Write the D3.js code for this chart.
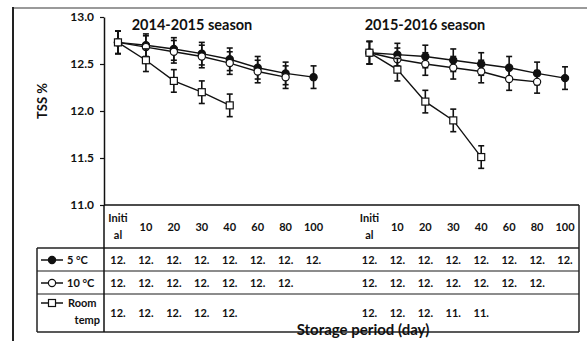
<!DOCTYPE html>
<html>
<head>
<meta charset="utf-8">
<script src="https://cdn.jsdelivr.net/npm/d3@7"></script>
<style>
  html, body { margin: 0; padding: 0; background: #fff; }
  svg { display: block; font-family: Lato, "Open Sans", sans-serif; font-weight: 700; }
</style>
</head>
<body>
<svg id="chart" width="587" height="341"></svg>
<script>
// Storage days sampled in each season
const days = ["Initial", "10", "20", "30", "40", "60", "80", "100"];
const seasons = ["2014-2015 season", "2015-2016 season"];

// TSS % means per treatment, season 2014-2015
const s1Cold5 = [12.73, 12.70, 12.66, 12.61, 12.55, 12.46, 12.40, 12.36];
const s1Cold10 = [12.73, 12.68, 12.63, 12.58, 12.51, 12.42, 12.36];
const s1Room = [12.73, 12.54, 12.32, 12.20, 12.06];
// TSS % means per treatment, season 2015-2016
const s2Cold5 = [12.62, 12.60, 12.58, 12.54, 12.50, 12.46, 12.40, 12.35];
const s2Cold10 = [12.62, 12.55, 12.50, 12.46, 12.42, 12.34, 12.31];
const s2Room = [12.62, 12.44, 12.10, 11.90, 11.51];
// standard error shown by the bars
const stdErr = 0.12;

const treatments = ["5 °C", "10 °C", "Room temp"];
const yTicks = [11.0, 11.5, 12.0, 12.5, 13.0];

const svg = d3.select("#chart");

// one band per day in each season, with an empty band between the seasons
const keys = [];
seasons.forEach((s, si) => {
  if (si > 0) keys.push("gap");
  days.forEach(d => keys.push(si + "|" + d));
});
const x = d3.scaleBand().domain(keys).range([104, 579]).padding(0);
const cx = k => x(k) + x.bandwidth() / 2;
const y = d3.scaleLinear().domain([11, 13]).range([205, 17]);

const series = [
  { name: treatments[0], shape: "dot", data: [s1Cold5, s2Cold5] },
  { name: treatments[1], shape: "ring", data: [s1Cold10, s2Cold10] },
  { name: treatments[2], shape: "square", data: [s1Room, s2Room] }
];

// outer frame
svg.append("line").attr("x1", 13).attr("x2", 587).attr("y1", 8).attr("y2", 8)
  .attr("stroke", "#9a9a9a").attr("stroke-width", 2);
svg.append("line").attr("x1", 13).attr("x2", 13).attr("y1", 7).attr("y2", 341)
  .attr("stroke", "#222").attr("stroke-width", 2);

// y axis
const yAxis = svg.append("g").attr("transform", "translate(104,0)")
  .call(d3.axisLeft(y).tickValues(yTicks).tickFormat(d3.format(".1f")).tickSize(4).tickSizeOuter(0));
yAxis.select(".domain").attr("stroke", "#111").attr("stroke-width", 1.5);
yAxis.selectAll(".tick line").attr("stroke", "#111").attr("stroke-width", 1.2);
yAxis.selectAll(".tick text").attr("x", -10).attr("font-size", 12).attr("font-weight", 700)
  .attr("font-family", "Lato, sans-serif").attr("fill", "#111");

svg.append("text").attr("transform", "translate(47,101) rotate(-90)")
  .attr("text-anchor", "middle").attr("font-size", 13).attr("fill", "#111").text("TSS %");

// season titles
seasons.forEach((s, si) => {
  svg.append("text").attr("x", si === 0 ? 192 : 425).attr("y", 30)
    .attr("text-anchor", "middle").attr("font-size", 14.5).attr("fill", "#111").text(s);
});

// data table below the plot
const tbl = svg.append("g");
const rowLines = [205, 248, 271, 294, 332];
tbl.append("line").attr("x1", 104).attr("x2", 579).attr("y1", 205).attr("y2", 205)
  .attr("stroke", "#111").attr("stroke-width", 1.6);
[248, 271, 294, 332].forEach((yy, i) => {
  tbl.append("line").attr("x1", 37).attr("x2", 579).attr("y1", yy).attr("y2", yy)
    .attr("stroke", i === 1 || i === 2 ? "#666" : "#222").attr("stroke-width", 1.5);
});
tbl.append("line").attr("x1", 37).attr("x2", 37).attr("y1", 248).attr("y2", 332)
  .attr("stroke", "#222").attr("stroke-width", 1.5);
tbl.append("line").attr("x1", 104).attr("x2", 104).attr("y1", 205).attr("y2", 332)
  .attr("stroke", "#111").attr("stroke-width", 1.5);
tbl.append("line").attr("x1", 579).attr("x2", 579).attr("y1", 205).attr("y2", 332)
  .attr("stroke", "#222").attr("stroke-width", 1.5);

// header row: storage days
seasons.forEach((s, si) => {
  days.forEach(d => {
    const t = tbl.append("text").attr("x", cx(si + "|" + d)).attr("text-anchor", "middle")
      .attr("font-size", 11).attr("fill", "#111");
    if (d === "Initial") {
      t.append("tspan").attr("x", cx(si + "|" + d)).attr("y", 222).text("Initi");
      t.append("tspan").attr("x", cx(si + "|" + d)).attr("y", 239).text("al");
    } else {
      t.attr("y", 231).text(d);
    }
  });
});

// value rows (integer part of each mean, as printed)
const rowCenters = [260, 283, 313];
series.forEach((ser, ri) => {
  ser.data.forEach((vals, si) => {
    vals.forEach((v, i) => {
      tbl.append("text").attr("x", cx(si + "|" + days[i])).attr("y", rowCenters[ri] + 4)
        .attr("text-anchor", "middle").attr("font-size", 11).attr("fill", "#111")
        .text(Math.floor(v) + ".");
    });
  });
});

// marker drawing helper
function marker(g, shape, px, py) {
  if (shape === "square") {
    g.append("rect").attr("x", px - 3.5).attr("y", py - 3.5).attr("width", 7).attr("height", 7)
      .attr("fill", "#fff").attr("stroke", "#111").attr("stroke-width", 1.2);
  } else {
    g.append("circle").attr("cx", px).attr("cy", py).attr("r", 3.6)
      .attr("fill", shape === "dot" ? "#111" : "#fff").attr("stroke", "#111").attr("stroke-width", 1.2);
  }
}

// legend cells in the table
series.forEach((ser, ri) => {
  const ly = ri === 2 ? 303 : rowCenters[ri];
  tbl.append("line").attr("x1", 41).attr("x2", 63).attr("y1", ly).attr("y2", ly)
    .attr("stroke", "#111").attr("stroke-width", 1.5);
  marker(tbl, ser.shape, 52, ly);
  if (ri === 2) {
    tbl.append("text").attr("x", 68).attr("y", ly + 4).attr("font-size", 11).attr("fill", "#111").text("Room");
    tbl.append("text").attr("x", 100).attr("y", ly + 21).attr("text-anchor", "end")
      .attr("font-size", 11).attr("fill", "#111").text("temp");
  } else {
    tbl.append("text").attr("x", 67).attr("y", ly + 4).attr("font-size", 11).attr("fill", "#111").text(ser.name);
  }
});

// plotted series: lines, error bars, markers
const plot = svg.append("g");
const line = d3.line().x(d => d.x).y(d => y(d.v));
series.forEach(ser => {
  ser.data.forEach((vals, si) => {
    const pts = vals.map((v, i) => ({ x: cx(si + "|" + days[i]), v }));
    const g = plot.append("g");
    g.append("path").attr("d", line(pts)).attr("fill", "none").attr("stroke", "#111").attr("stroke-width", 1.4);
    pts.forEach(p => {
      const y0 = y(p.v - stdErr), y1 = y(p.v + stdErr);
      g.append("line").attr("x1", p.x).attr("x2", p.x).attr("y1", y0).attr("y2", y1)
        .attr("stroke", "#111").attr("stroke-width", 1.6);
      [y0, y1].forEach(yy => g.append("line").attr("x1", p.x - 3).attr("x2", p.x + 3)
        .attr("y1", yy).attr("y2", yy).attr("stroke", "#111").attr("stroke-width", 1.6));
    });
    pts.forEach(p => marker(g, ser.shape, p.x, y(p.v)));
  });
});

// x axis title
svg.append("text").attr("x", 363).attr("y", 335).attr("text-anchor", "middle")
  .attr("font-size", 15).attr("fill", "#111").text("Storage period (day)");
</script>
</body>
</html>
